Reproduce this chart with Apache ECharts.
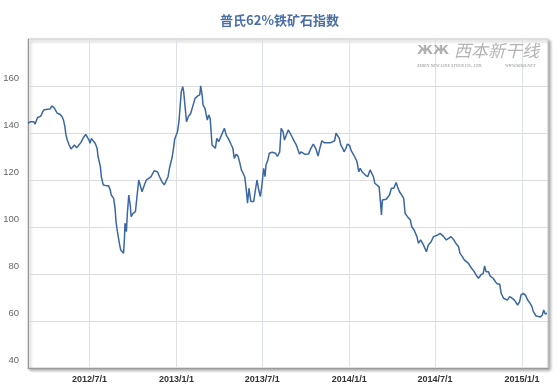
<!DOCTYPE html>
<html>
<head>
<meta charset="utf-8">
<script src="https://cdn.jsdelivr.net/npm/echarts@6/dist/echarts.min.js"></script>
<style>
html,body{margin:0;padding:0;background:#fff;}
#chart{width:559px;height:392px;}
</style>
</head>
<body>
<div id="chart"></div>
<script>
const titleText = '普氏62%铁矿石指数';
const xTickDates = ['2012-07-01','2013-01-01','2013-07-01','2014-01-01','2014-07-01','2015-01-01'];
const xMin = '2012-02-22';
const xMax = '2015-02-25';
const yMin = 40, yMax = 180, yStep = 20;

const dates = [
'2012-02-22','2012-02-27','2012-03-05','2012-03-08','2012-03-13','2012-03-20','2012-03-24','2012-03-26','2012-04-03','2012-04-09',
'2012-04-12','2012-04-17','2012-04-21','2012-04-24','2012-04-26','2012-04-30','2012-05-04','2012-05-07','2012-05-10','2012-05-12',
'2012-05-15','2012-05-19','2012-05-23','2012-05-26','2012-05-30','2012-06-02','2012-06-04','2012-06-08','2012-06-13','2012-06-18',
'2012-06-23','2012-06-27','2012-06-30','2012-07-02','2012-07-05','2012-07-09','2012-07-13','2012-07-17','2012-07-19','2012-07-24',
'2012-07-26','2012-07-30','2012-08-05','2012-08-10','2012-08-14','2012-08-16','2012-08-21','2012-08-24','2012-08-26','2012-08-29',
'2012-09-02','2012-09-05','2012-09-07','2012-09-11','2012-09-13','2012-09-14','2012-09-17','2012-09-19','2012-09-22','2012-09-25',
'2012-09-27','2012-10-01','2012-10-06','2012-10-10','2012-10-13','2012-10-16','2012-10-20','2012-10-25','2012-10-29','2012-11-03',
'2012-11-08','2012-11-11','2012-11-15','2012-11-19','2012-11-22','2012-11-26','2012-12-01','2012-12-06','2012-12-10','2012-12-14',
'2012-12-17','2012-12-20','2012-12-23','2012-12-26','2012-12-28','2012-12-31','2013-01-03','2013-01-06','2013-01-09','2013-01-11',
'2013-01-14','2013-01-16','2013-01-19','2013-01-22','2013-01-26','2013-01-31','2013-02-03','2013-02-06','2013-02-09','2013-02-14',
'2013-02-19','2013-02-21','2013-02-24','2013-02-26','2013-03-02','2013-03-05','2013-03-07','2013-03-10','2013-03-13','2013-03-17',
'2013-03-20','2013-03-24','2013-03-27','2013-03-31','2013-04-03','2013-04-07','2013-04-12','2013-04-16','2013-04-21','2013-04-26',
'2013-04-30','2013-05-03','2013-05-07','2013-05-11','2013-05-14','2013-05-18','2013-05-21','2013-05-25','2013-05-28','2013-05-31',
'2013-06-03','2013-06-07','2013-06-13','2013-06-16','2013-06-20','2013-06-23','2013-06-27','2013-06-30','2013-07-04','2013-07-07',
'2013-07-09','2013-07-13','2013-07-16','2013-07-19','2013-07-22','2013-07-29','2013-08-02','2013-08-07','2013-08-10','2013-08-14',
'2013-08-17','2013-08-21','2013-08-25','2013-08-29','2013-09-02','2013-09-07','2013-09-11','2013-09-14','2013-09-18','2013-09-21',
'2013-09-25','2013-09-29','2013-10-02','2013-10-07','2013-10-12','2013-10-17','2013-10-22','2013-10-27','2013-10-30','2013-11-04',
'2013-11-09','2013-11-13','2013-11-18','2013-11-23','2013-11-27','2013-12-01','2013-12-04','2013-12-08','2013-12-11','2013-12-14',
'2013-12-18','2013-12-21','2013-12-25','2013-12-28','2014-01-02','2014-01-05','2014-01-09','2014-01-12','2014-01-16','2014-01-18',
'2014-01-21','2014-01-24','2014-01-28','2014-01-31','2014-02-04','2014-02-09','2014-02-14','2014-02-18','2014-02-21','2014-02-24',
'2014-02-28','2014-03-05','2014-03-07','2014-03-10','2014-03-12','2014-03-16','2014-03-20','2014-03-24','2014-03-27','2014-03-31',
'2014-04-05','2014-04-10','2014-04-13','2014-04-17','2014-04-22','2014-04-26','2014-04-29','2014-05-04','2014-05-10','2014-05-13',
'2014-05-18','2014-05-24','2014-05-27','2014-06-01','2014-06-07','2014-06-13','2014-06-17','2014-06-23','2014-06-28','2014-07-02',
'2014-07-07','2014-07-12','2014-07-16','2014-07-19','2014-07-25','2014-07-30','2014-08-04','2014-08-09','2014-08-14','2014-08-20',
'2014-08-23','2014-08-28','2014-09-01','2014-09-05','2014-09-10','2014-09-14','2014-09-18','2014-09-22','2014-09-26','2014-10-01',
'2014-10-06','2014-10-11','2014-10-14','2014-10-17','2014-10-22','2014-10-26','2014-11-01','2014-11-06','2014-11-10','2014-11-15',
'2014-11-18','2014-11-23','2014-11-27','2014-12-01','2014-12-06','2014-12-11','2014-12-16','2014-12-20','2014-12-23','2014-12-27',
'2014-12-30','2015-01-04','2015-01-09','2015-01-13','2015-01-17','2015-01-22','2015-01-25','2015-01-31','2015-02-04','2015-02-09',
'2015-02-13','2015-02-16','2015-02-19','2015-02-23'
];

const values = [
144.1,144.8,144.8,143.8,146.5,147.2,147.2,149.8,150.1,150.2,
151.5,150.8,150.2,148.4,149.2,147.9,146.9,145.5,142.7,139.4,
137.0,134.9,133.2,132.8,134.9,135.6,133.7,133.2,136.0,138.0,
139.4,139.0,137.0,135.6,137.7,136.6,135.6,133.5,130.0,125.7,
121.4,117.9,117.6,117.6,115.7,113.6,112.2,108.0,102.3,98.0,
93.1,90.2,89.5,88.8,95.9,101.6,98.0,105.8,113.6,109.4,
104.4,105.8,106.5,107.2,120.0,117.9,115.0,117.9,120.0,120.7,
121.4,122.1,124.0,124.3,123.4,121.4,119.3,117.9,118.1,121.4,
125.0,124.8,130.0,134.2,137.3,137.7,140.6,144.8,152.6,157.6,
159.7,157.6,151.2,144.8,147.0,148.4,148.2,152.6,154.7,155.7,
156.2,160.1,156.2,151.9,150.5,150.0,145.5,147.7,146.2,134.9,
134.2,133.5,137.7,136.3,137.7,137.2,142.0,139.1,137.4,135.2,
133.5,129.2,131.0,130.0,127.8,124.3,125.0,121.4,116.5,110.1,
116.5,110.8,110.8,115.0,120.0,116.5,112.9,117.1,125.0,121.4,
126.4,128.5,131.4,132.0,131.8,131.4,130.0,132.0,142.0,140.6,
137.0,137.7,141.3,139.9,138.4,136.3,134.9,135.2,131.0,132.0,
132.2,131.0,131.6,131.1,133.5,135.3,133.5,130.2,132.8,136.7,
135.9,136.7,135.9,135.9,136.3,136.7,139.9,139.6,137.7,134.9,
133.5,132.0,133.5,135.3,134.6,132.5,131.1,130.0,128.5,127.1,
123.5,125.0,123.5,123.5,122.1,121.4,124.3,124.5,121.4,118.6,
117.9,117.1,112.9,105.1,111.5,110.8,111.8,111.5,113.6,116.5,
116.5,118.9,117.1,115.0,113.6,112.2,105.8,104.4,103.0,100.1,
98.7,95.9,93.1,94.5,92.3,89.5,92.3,93.7,95.9,95.5,
96.6,97.3,98.0,96.0,94.5,95.2,95.9,94.8,93.1,91.6,
88.8,87.4,86.0,85.2,84.5,83.1,83.8,81.0,79.6,78.2,
79.6,80.2,83.4,81.0,81.0,79.1,78.2,76.7,75.7,75.7,
71.8,69.7,70.4,68.9,70.4,69.7,68.9,68.2,66.8,68.2,
71.1,71.8,70.8,68.9,67.9,66.1,64.0,62.1,61.6,61.7,
62.6,64.7,63.0,63.3
];

const ts = s => Date.parse(s + 'T00:00:00Z');
const seriesData = dates.map((d, i) => [ts(d), values[i]]);
const tickValues = xTickDates.map(ts);

const chart = echarts.init(document.getElementById('chart'), null, {renderer: 'canvas'});
chart.setOption({
  animation: false,
  backgroundColor: '#fff',
  title: {
    text: titleText,
    left: 'center',
    top: 9,
    textStyle: {fontSize: 13, fontWeight: 'bold', color: '#4a6fa8', fontFamily: 'Noto Sans CJK SC, sans-serif'}
  },
  grid: {
    left: 28, right: 11, top: 39, bottom: 24,
    show: true,
    backgroundColor: '#fff',
    borderColor: '#c8c8c8',
    borderWidth: 1,
    shadowColor: 'rgba(0,0,0,0.35)',
    shadowBlur: 3,
    shadowOffsetX: 2,
    shadowOffsetY: 2
  },
  graphic: [
    {type: 'text', left: 454, top: 42, z: 100, silent: true,
     style: {text: '西本新干线', font: 'italic 17px "Noto Sans CJK SC"', fill: '#b4b4b4'}},
    {type: 'text', left: 417, top: 64, z: 100, silent: true,
     style: {text: 'XIBEN NEW LINE STOCK CO., LTD.', font: 'italic bold 4px "Liberation Serif"', fill: '#a8a8a8'}},
    {type: 'text', left: 505, top: 64, z: 100, silent: true,
     style: {text: 'WWW.96369.NET', font: 'italic bold 4px "Liberation Serif"', fill: '#a8a8a8'}},
    {type: 'text', left: 417, top: 44, z: 100, silent: true,
     style: {text: 'ЖЖ', font: 'bold 13px "DejaVu Sans"', fill: '#b0b0b0'}}
  ],
  xAxis: {
    type: 'value',
    min: ts(xMin),
    max: ts(xMax),
    axisLine: {show: true, lineStyle: {color: '#999', width: 1}},
    axisTick: {show: false, customValues: tickValues},
    axisLabel: {
      customValues: tickValues,
      margin: 7,
      fontSize: 9,
      fontWeight: 'bold',
      color: '#333',
      fontFamily: 'Arial, Liberation Sans, sans-serif',
      formatter: function (val) {
        const d = new Date(val);
        return d.getUTCFullYear() + '/' + (d.getUTCMonth() + 1) + '/' + d.getUTCDate();
      }
    },
    splitLine: {show: true, lineStyle: {color: '#dde2ea', width: 1}}
  },
  yAxis: {
    type: 'value',
    min: yMin,
    max: yMax,
    interval: yStep,
    axisLine: {show: true, lineStyle: {color: '#999', width: 1}},
    axisTick: {show: false},
    axisLabel: {
      showMaxLabel: false,
      margin: 9,
      fontSize: 9.5,
      color: '#666',
      verticalAlign: 'bottom',
      padding: [0, 0, 3, 0],
      fontFamily: 'Arial, Liberation Sans, sans-serif'
    },
    splitLine: {show: true, lineStyle: {color: '#dcdcdc', width: 1}}
  },
  series: [{
    type: 'line',
    data: seriesData,
    showSymbol: false,
    symbol: 'none',
    lineStyle: {color: '#3b67a2', width: 1.5},
    silent: true
  }]
});
</script>
</body>
</html>
